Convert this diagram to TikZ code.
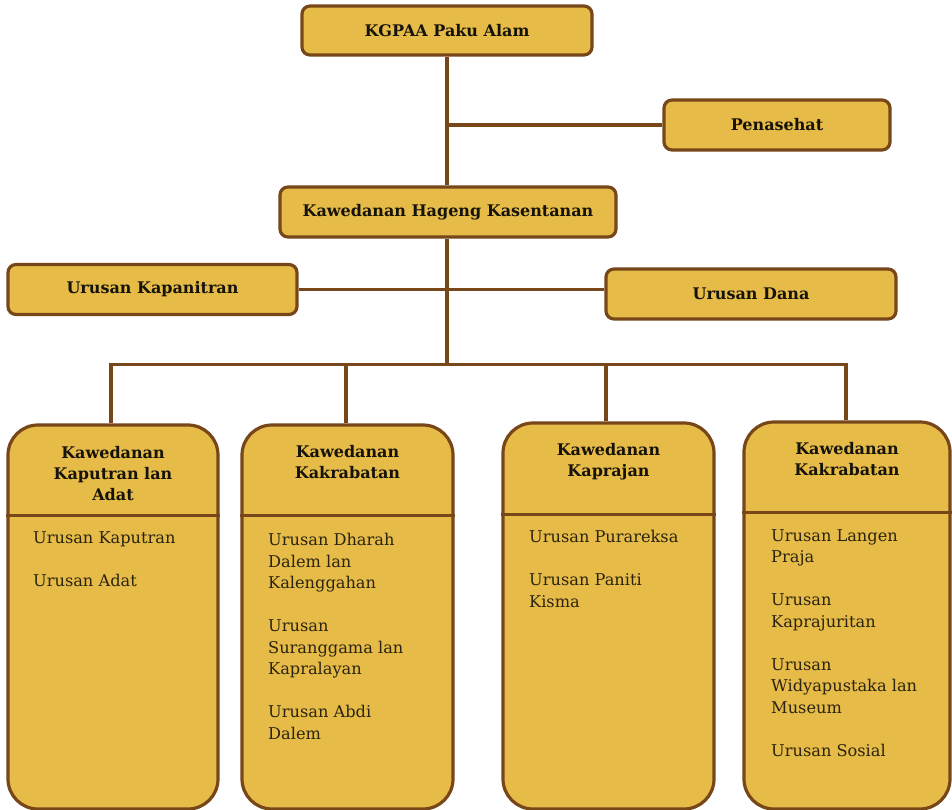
\documentclass[tikz,border=0pt]{standalone}
\usepackage{fontspec}
\setmainfont{DejaVu Serif}
\definecolor{boxfill}{HTML}{E6BB47}
\definecolor{boxline}{HTML}{774719}
\definecolor{txt}{HTML}{16130A}
\definecolor{btxt}{HTML}{2A2410}
\tikzset{
  topbox/.style={draw=boxline, fill=boxfill, line width=3.2pt, rounded corners=8pt,
    text=txt, font=\fontsize{16}{20}\selectfont\bfseries, inner sep=0pt},
  bigbox/.style={draw=boxline, fill=boxfill, line width=3.2pt, rounded corners=30pt, inner sep=0pt},
  conn/.style={draw=boxline, line width=3.2pt},
  divline/.style={draw=boxline, line width=3pt},
  ttl/.style={text=txt, font=\fontsize{16}{21.3}\selectfont\bfseries, align=center, inner sep=0pt, anchor=north},
  bdy/.style={text=btxt, font=\fontsize{16.2}{21.5}\selectfont, align=left, inner sep=0pt, anchor=north west}
}
\begin{document}
\begin{tikzpicture}[x=1pt,y=-1pt]
\useasboundingbox (0,0) rectangle (952,810);
% top boxes
\node[topbox, minimum width=290pt, minimum height=49pt] (kg) at (447,30.5) {KGPAA Paku Alam};
\node[topbox, minimum width=226pt, minimum height=50pt] (pen) at (777,125) {Penasehat};
\node[topbox, minimum width=336pt, minimum height=50pt] (hag) at (448,212) {Kawedanan Hageng Kasentanan};
\node[topbox, minimum width=289pt, minimum height=50pt] (kap) at (152.5,289.5) {Urusan Kapanitran};
\node[topbox, minimum width=290pt, minimum height=50pt] (dana) at (751,294) {Urusan Dana};
% bottom boxes
\node[bigbox, minimum width=210pt, minimum height=384pt] (b1) at (113,617) {};
\node[bigbox, minimum width=211pt, minimum height=384pt] (b2) at (347.5,617) {};
\node[bigbox, minimum width=211pt, minimum height=386pt] (b3) at (608.5,616) {};
\node[bigbox, minimum width=206pt, minimum height=387pt] (b4) at (847,615.5) {};
% connectors
\coordinate (kgx) at (447,30.5);
\coordinate (pj) at (kgx |- pen.west);
\coordinate (bus) at (447,364.5);
\coordinate (x1) at (111,0);
\coordinate (x2) at (346,0);
\coordinate (x3) at (606,0);
\coordinate (x4) at (846,0);
\draw[conn] (kg.south -| kgx) -- (hag.north -| kgx);
\draw[conn] (pj) -- (pen.west);
\draw[conn] (hag.south -| kgx) -- (bus);
\draw[conn] (kap.east) -- (kap.east -| dana.west);
\draw[conn] (x1 |- b1.north) -- (x1 |- bus) -- (x4 |- bus) -- (x4 |- b4.north);
\draw[conn] (x2 |- bus) -- (x2 |- b2.north);
\draw[conn] (x3 |- bus) -- (x3 |- b3.north);
% dividers
\coordinate (d1) at (0,515);
\coordinate (d2) at (0,515);
\coordinate (d3) at (0,514);
\coordinate (d4) at (0,512);
\draw[divline] (b1.west |- d1) -- (b1.east |- d1);
\draw[divline] (b2.west |- d2) -- (b2.east |- d2);
\draw[divline] (b3.west |- d3) -- (b3.east |- d3);
\draw[divline] (b4.west |- d4) -- (b4.east |- d4);
% titles
\node[ttl] (t1) at (113,446) {Kawedanan\\Kaputran lan\\Adat};
\node[ttl] (t2) at (347.5,445) {Kawedanan\\Kakrabatan};
\node[ttl] (t3) at (608.5,443) {Kawedanan\\Kaprajan};
\node[ttl] (t4) at (847,442) {Kawedanan\\Kakrabatan};
% bodies
\node[bdy] (u1) at (33,531) {Urusan Kaputran\\[21.5pt]Urusan Adat};
\node[bdy] (u2) at (268,533) {Urusan Dharah\\Dalem lan\\Kalenggahan\\[21.5pt]Urusan\\Suranggama lan\\Kapralayan\\[21.5pt]Urusan Abdi\\Dalem};
\node[bdy] (u3) at (529,530) {Urusan Purareksa\\[21.5pt]Urusan Paniti\\Kisma};
\node[bdy] (u4) at (771,529) {Urusan Langen\\Praja\\[21.5pt]Urusan\\Kaprajuritan\\[21.5pt]Urusan\\Widyapustaka lan\\Museum\\[21.5pt]Urusan Sosial};
\end{tikzpicture}
\end{document}
